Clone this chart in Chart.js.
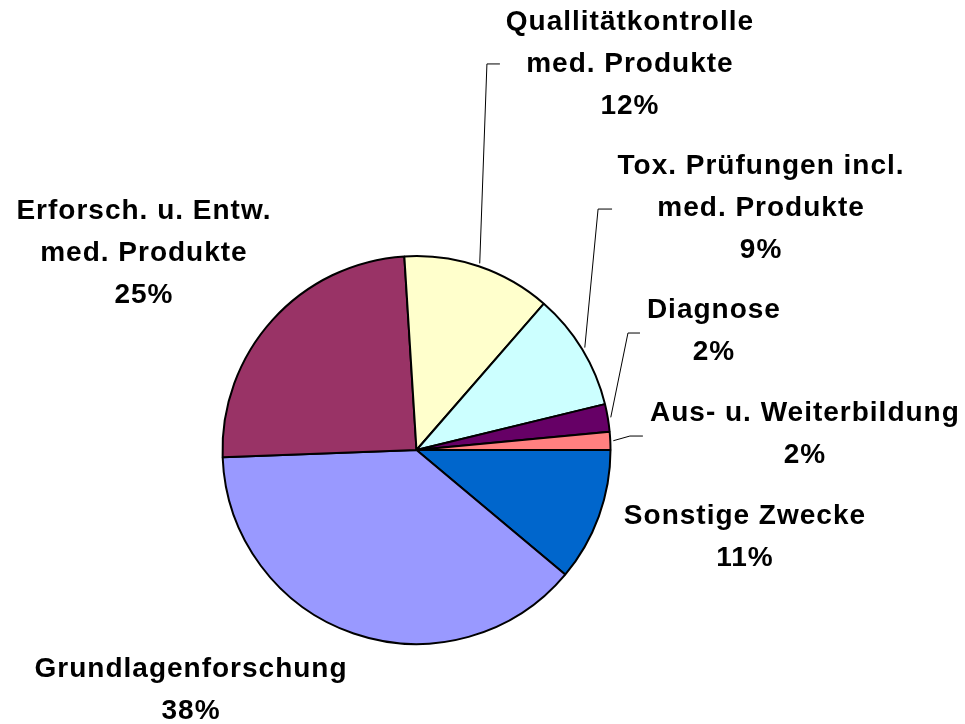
<!DOCTYPE html>
<html>
<head>
<meta charset="utf-8">
<script src="https://cdn.jsdelivr.net/npm/chart.js@4/dist/chart.umd.min.js"></script>
<style>
  html, body { margin: 0; padding: 0; background: #fff; }
  #wrap { width: 965px; height: 724px; }
</style>
</head>
<body>
<div id="wrap"><canvas id="pie" width="965" height="724"></canvas></div>
<script>
// Daten (im Uhrzeigersinn ab 3 Uhr)
const categories = [
  ['Sonstige Zwecke'],
  ['Grundlagenforschung'],
  ['Erforsch. u. Entw.', 'med. Produkte'],
  ['Quallitätkontrolle', 'med. Produkte'],
  ['Tox. Prüfungen incl.', 'med. Produkte'],
  ['Diagnose'],
  ['Aus- u. Weiterbildung']
];
const shares = [11.1, 38.3, 24.6, 12.4, 9.8, 2.3, 1.5];
const percentLabels = ['11%', '38%', '25%', '12%', '9%', '2%', '2%'];

// Farben
const sliceColors = ['#0066CC', '#9999FF', '#993366', '#FFFFCC', '#CCFFFF', '#660066', '#FF8080'];

// Lage der Beschriftungen, in Radien relativ zum Kreismittelpunkt
const labelPlacement = [
  { x: 1.693, y: 0.448 },
  { x: -1.162, y: 1.237 },
  { x: -1.405, y: -1.015 },
  { x: 1.100, y: -1.990, leader: [[0.363, -1.990], [0.430, -1.990]] },
  { x: 1.776, y: -1.247, leader: [[0.936, -1.242], [1.008, -1.242]] },
  { x: 1.533, y: -0.613, leader: [[1.090, -0.603], [1.152, -0.603]] },
  { x: 2.002, y: -0.082, leader: [[1.100, -0.072], [1.167, -0.072]] }
];

const LINE_H = 42;

const labelPlugin = {
  id: 'pieLabels',
  afterDatasetsDraw(chart) {
    const ctx = chart.ctx;
    const arcs = chart.getDatasetMeta(0).data;
    ctx.save();
    arcs.forEach((arc, i) => {
      const p = arc.getProps(['x', 'y', 'startAngle', 'endAngle', 'outerRadius'], true);
      const r = p.outerRadius;
      const place = labelPlacement[i];

      // Führungslinie
      if (place.leader) {
        const mid = (p.startAngle + p.endAngle) / 2;
        ctx.beginPath();
        ctx.strokeStyle = '#000';
        ctx.lineWidth = 1;
        ctx.moveTo(p.x + Math.cos(mid) * (r + 3), p.y + Math.sin(mid) * (r + 3));
        place.leader.forEach(pt => ctx.lineTo(p.x + pt[0] * r, p.y + pt[1] * r));
        ctx.stroke();
      }

      // Text
      const lines = categories[i].concat([percentLabels[i]]);
      const cx = p.x + place.x * r;
      const cy = p.y + place.y * r;
      ctx.fillStyle = '#000';
      ctx.font = 'bold 28px "Liberation Sans", Arial, sans-serif';
      ctx.letterSpacing = '1px';
      ctx.textAlign = 'center';
      ctx.textBaseline = 'middle';
      const top = cy - (lines.length - 1) * LINE_H / 2;
      lines.forEach((t, k) => ctx.fillText(t, cx, top + k * LINE_H));
    });
    ctx.restore();
  }
};

new Chart(document.getElementById('pie'), {
  type: 'pie',
  data: {
    labels: categories.map(c => c.join(' ')),
    datasets: [{
      data: shares,
      backgroundColor: sliceColors,
      borderColor: '#000',
      borderWidth: 2
    }]
  },
  options: {
    responsive: false,
    animation: false,
    devicePixelRatio: 1,
    rotation: 90,
    radius: 194,
    layout: { padding: { left: 0, right: 132, top: 176, bottom: 0 } },
    plugins: {
      legend: { display: false },
      tooltip: { enabled: false }
    }
  },
  plugins: [labelPlugin]
});
</script>
</body>
</html>
